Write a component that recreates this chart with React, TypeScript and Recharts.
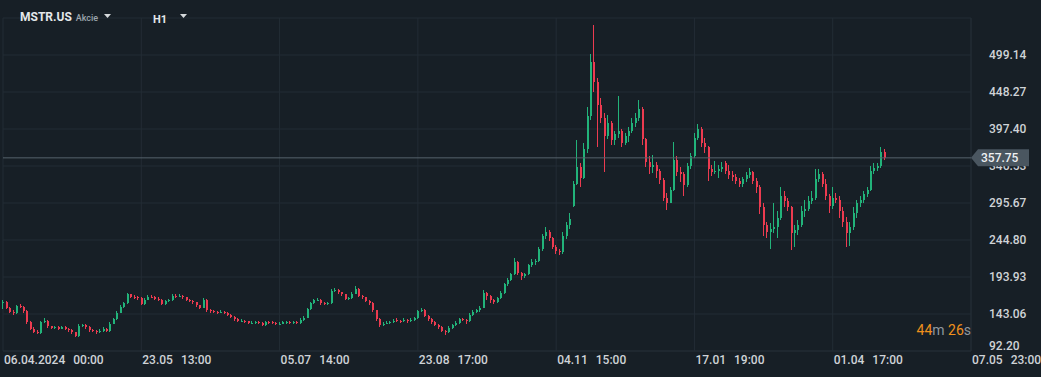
import React from 'react';
import { ComposedChart, Bar, XAxis, YAxis, CartesianGrid, ReferenceLine } from 'recharts';

const BG = '#171f26';
const GRID = '#232c35';
const UP = '#22b37a';
const DOWN = '#ec3b50';
const TEXT = '#cfd3d7';

const OPENS = [
  158, 160, 152, 146, 144, 154, 153, 147, 132, 123, 119, 117, 132, 134, 126, 124, 125, 123, 125, 123,
  121, 118, 113, 127, 128, 125, 121, 120, 118, 120, 123, 120, 130, 136, 145, 153, 158, 170, 167, 166,
  165, 157, 163, 167, 166, 164, 163, 157, 161, 162, 168, 167, 168, 166, 163, 161, 159, 155, 152, 163,
  148, 147, 146, 145, 146, 145, 142, 139, 136, 133, 134, 133, 130, 131, 132, 131, 128, 132, 132, 131,
  129, 130, 131, 132, 131, 132, 131, 135, 138, 150, 158, 162, 163, 158, 157, 158, 175, 176, 173, 170,
  164, 165, 171, 178, 168, 166, 161, 158, 148, 136, 128, 130, 131, 132, 135, 134, 133, 135, 133, 135,
  137, 147, 149, 141, 136, 132, 128, 125, 120, 118, 124, 128, 131, 136, 135, 133, 142, 146, 148, 152,
  172, 168, 162, 160, 165, 172, 184, 190, 198, 215, 199, 195, 198, 210, 214, 216, 232, 250, 256, 247,
  235, 229, 228, 250, 266, 292, 322, 345, 330, 370, 415, 490, 462, 430, 412, 388, 405, 382, 390, 395,
  378, 388, 395, 406, 412, 425, 383, 352, 345, 348, 340, 327, 303, 296, 314, 355, 338, 335, 320, 346,
  360, 385, 398, 378, 372, 342, 338, 340, 342, 350, 340, 334, 332, 326, 322, 328, 334, 338, 326, 318,
  290, 265, 256, 260, 262, 275, 305, 298, 290, 255, 258, 266, 285, 288, 298, 302, 328, 336, 322, 305,
  292, 303, 300, 285, 270, 255, 262, 282, 296, 300, 308, 314, 340, 344, 346, 366,
];

const HIGHS = [
  162, 161, 153, 148, 156, 157, 154, 148, 134, 125, 121, 134, 137, 135, 127, 127, 126, 127, 126, 124,
  122, 119, 129, 130, 129, 126, 123, 121, 122, 125, 124, 132, 138, 147, 155, 160, 172, 171, 169, 168,
  166, 165, 169, 169, 168, 166, 164, 163, 164, 170, 170, 170, 169, 167, 164, 162, 160, 156, 165, 164,
  150, 149, 147, 148, 147, 146, 143, 140, 137, 136, 135, 134, 133, 134, 133, 132, 134, 133, 133, 132,
  132, 134, 134, 133, 134, 133, 137, 140, 152, 160, 164, 165, 164, 159, 160, 177, 179, 177, 174, 171,
  167, 173, 182, 179, 169, 167, 162, 159, 149, 137, 132, 133, 134, 136, 137, 135, 137, 136, 137, 139,
  149, 152, 150, 142, 137, 133, 129, 126, 121, 126, 130, 133, 138, 138, 136, 144, 148, 150, 154, 176,
  174, 169, 164, 167, 175, 186, 193, 200, 220, 216, 201, 200, 212, 218, 219, 235, 253, 262, 258, 249,
  238, 232, 256, 270, 282, 326, 382, 350, 378, 428, 500, 541, 468, 440, 420, 416, 408, 395, 443, 398,
  392, 400, 412, 420, 437, 428, 385, 360, 362, 352, 343, 330, 310, 318, 380, 360, 345, 338, 350, 365,
  392, 404, 400, 385, 374, 348, 354, 348, 352, 354, 348, 340, 336, 330, 332, 338, 344, 340, 330, 320,
  295, 270, 268, 295, 285, 318, 312, 302, 292, 265, 272, 292, 300, 305, 312, 342, 342, 338, 328, 308,
  318, 310, 305, 290, 276, 270, 290, 300, 305, 312, 318, 346, 350, 350, 372, 370,
];

const LOWS = [
  150, 150, 144, 142, 143, 151, 145, 130, 121, 117, 115, 116, 131, 124, 122, 122, 121, 122, 121, 119,
  116, 111, 112, 125, 123, 119, 118, 116, 117, 119, 118, 119, 129, 135, 144, 152, 157, 165, 164, 163,
  155, 156, 162, 165, 162, 161, 155, 156, 160, 161, 165, 166, 164, 161, 159, 157, 153, 150, 151, 146,
  145, 144, 143, 144, 143, 140, 137, 134, 132, 132, 131, 129, 129, 130, 129, 126, 127, 129, 129, 128,
  128, 129, 130, 129, 130, 129, 130, 134, 137, 149, 157, 161, 156, 155, 156, 157, 174, 171, 168, 162,
  163, 164, 170, 166, 164, 159, 156, 146, 134, 125, 127, 129, 130, 131, 132, 131, 132, 131, 132, 134,
  136, 146, 139, 134, 130, 126, 123, 118, 114, 117, 123, 127, 130, 133, 130, 132, 141, 144, 146, 151,
  163, 158, 157, 158, 164, 171, 182, 188, 196, 196, 190, 192, 196, 207, 211, 214, 230, 246, 244, 232,
  226, 224, 226, 246, 260, 290, 320, 318, 328, 365, 410, 448, 372, 405, 338, 383, 376, 375, 385, 372,
  375, 380, 392, 400, 408, 375, 345, 336, 337, 330, 322, 298, 286, 295, 312, 333, 325, 305, 318, 343,
  358, 382, 372, 365, 326, 333, 335, 330, 338, 336, 328, 326, 322, 318, 318, 324, 330, 322, 310, 280,
  250, 248, 232, 255, 248, 272, 290, 285, 231, 235, 252, 262, 276, 285, 294, 300, 324, 318, 300, 282,
  288, 295, 275, 262, 235, 236, 258, 275, 290, 296, 304, 312, 336, 340, 344, 355,
];

const CLOSES = [
  160, 152, 146, 144, 154, 153, 147, 132, 123, 119, 117, 132, 134, 126, 124, 125, 123, 125, 123, 121,
  118, 113, 127, 128, 125, 121, 120, 118, 120, 123, 120, 130, 136, 145, 153, 158, 170, 167, 166, 165,
  157, 163, 167, 166, 164, 163, 157, 161, 162, 168, 167, 168, 166, 163, 161, 159, 155, 152, 163, 148,
  147, 146, 145, 146, 145, 142, 139, 136, 134, 134, 133, 131, 131, 132, 131, 128, 132, 131, 131, 130,
  130, 132, 132, 131, 132, 131, 135, 138, 150, 158, 162, 163, 158, 157, 158, 175, 176, 173, 170, 164,
  165, 171, 178, 168, 166, 161, 158, 148, 136, 128, 130, 131, 132, 134, 134, 133, 135, 133, 135, 137,
  147, 149, 141, 136, 132, 128, 125, 120, 118, 124, 128, 131, 136, 135, 133, 142, 146, 148, 152, 172,
  168, 162, 160, 165, 172, 184, 190, 198, 215, 199, 195, 198, 210, 214, 216, 232, 250, 256, 247, 235,
  229, 228, 250, 266, 274, 322, 345, 330, 370, 415, 490, 462, 430, 412, 388, 405, 382, 390, 395, 378,
  388, 395, 406, 412, 425, 383, 352, 345, 348, 340, 327, 303, 296, 314, 355, 338, 335, 320, 346, 360,
  385, 398, 378, 372, 342, 338, 340, 342, 345, 340, 334, 332, 326, 322, 328, 334, 338, 326, 318, 290,
  265, 256, 260, 262, 275, 305, 298, 290, 255, 258, 266, 285, 288, 298, 302, 328, 336, 322, 305, 292,
  303, 300, 285, 270, 255, 262, 282, 296, 300, 308, 314, 340, 344, 346, 366, 357.75,
];

const TICK_POS = [0, 40, 80, 120, 160, 200, 240, 280];
const TICK_LABELS = [
  '06.04.2024  00:00', '23.05  13:00', '05.07  14:00', '23.08  17:00',
  '04.11  15:00', '17.01  19:00', '01.04  17:00', '07.05  23:00',
];
const PRICE_TICKS = [92.2, 143.06, 193.93, 244.8, 295.67, 346.53, 397.4, 448.27, 499.14];
const LAST_PRICE = 357.75;

const data = CLOSES.map((c, i) => ({
  i,
  o: OPENS[i],
  h: HIGHS[i],
  l: LOWS[i],
  c,
  range: [LOWS[i], HIGHS[i]],
}));

function Candle(props: any) {
  const { x, y, width, height, payload } = props;
  if (!payload || height == null) return null;
  const { o, h, l, c } = payload;
  const color = c >= o ? UP : DOWN;
  const cx = Math.floor(x + width / 2);
  const span = h - l || 1;
  const top = y + ((h - Math.max(o, c)) / span) * height;
  const bot = y + ((h - Math.min(o, c)) / span) * height;
  return (
    <g shapeRendering="crispEdges">
      <rect x={cx} y={y} width={1} height={Math.max(1, height)} fill={color} />
      <rect x={cx - 0.5} y={top} width={2} height={Math.max(1, bot - top)} fill={color} />
    </g>
  );
}

function TimeTick({ x, payload }: any) {
  const idx = TICK_POS.indexOf(payload.value);
  const [date, time] = (TICK_LABELS[idx] || '').split('  ');
  return (
    <text x={x + 1} y={364} fill={TEXT} fontSize={12} fontWeight={500} textAnchor="start">
      <tspan>{date}</tspan>
      <tspan dx={8}>{time}</tspan>
    </text>
  );
}

function PriceTick({ x, y, payload }: any) {
  const bottom = payload.value === PRICE_TICKS[0];
  return (
    <text x={x + 10} y={y + (bottom ? -1 : 4)} fill={TEXT} fontSize={12} fontWeight={500} textAnchor="start">
      {payload.value.toFixed(2)}
    </text>
  );
}

function PriceTag({ viewBox }: any) {
  const x0 = viewBox.x + viewBox.width;
  const y0 = viewBox.y;
  const pts = `${x0},${y0} ${x0 + 7},${y0 - 8.5} ${x0 + 58},${y0 - 8.5} ${x0 + 58},${y0 + 8.5} ${x0 + 7},${y0 + 8.5}`;
  return (
    <g>
      <polygon points={pts} fill="#4a5660" />
      <text x={x0 + 10} y={y0 + 4.5} fill="#eef0f2" fontSize={12} fontWeight={500}>
        {LAST_PRICE.toFixed(2)}
      </text>
    </g>
  );
}

export default function App() {
  return (
    <div style={{ position: 'absolute', left: 0, top: 0, width: 1041, height: 377, background: BG, fontFamily: 'Roboto, sans-serif', overflow: 'hidden' }}>
      <ComposedChart width={1041} height={377} data={data} margin={{ top: 18, right: 0, bottom: 0, left: 3 }}>
        <CartesianGrid stroke={GRID} strokeWidth={1} />
        <XAxis
          dataKey="i"
          type="number"
          domain={[0, 280]}
          ticks={TICK_POS}
          interval={0}
          height={26}
          tickLine={false}
          axisLine={{ stroke: GRID }}
          tick={<TimeTick />}
        />
        <YAxis
          orientation="right"
          width={70}
          domain={[92.2, 550.01]}
          ticks={PRICE_TICKS}
          interval={0}
          allowDataOverflow
          tickLine={false}
          axisLine={{ stroke: GRID }}
          tick={<PriceTick />}
        />
        <Bar dataKey="range" barSize={3} shape={<Candle />} isAnimationActive={false} />
        <ReferenceLine
          y={LAST_PRICE}
          stroke="#56626c"
          strokeWidth={1}
          zIndex={2000}
          label={<PriceTag />}
        />
      </ComposedChart>

      <div style={{ position: 'absolute', left: 20, top: 10, display: 'flex', alignItems: 'baseline', color: '#e4e7ea' }}>
        <span style={{ fontSize: 12, fontWeight: 700 }}>MSTR.US</span>
        <span style={{ fontSize: 9, fontWeight: 500, color: '#9aa3ab', marginLeft: 4 }}>Akcie</span>
      </div>
      <svg style={{ position: 'absolute', left: 0, top: 0 }} width={200} height={30}>
        <polygon points="104,14 111,14 107.5,18" fill="#d5d9dc" />
        <polygon points="180,14 187,14 183.5,18" fill="#d5d9dc" />
      </svg>
      <div style={{ position: 'absolute', left: 153, top: 13, fontSize: 11, fontWeight: 700, color: '#e4e7ea' }}>H1</div>

      <div style={{ position: 'absolute', right: 70, top: 322, fontSize: 14, whiteSpace: 'pre', color: '#8f979e' }}>
        <span style={{ color: '#f0901c' }}>44</span>m <span style={{ color: '#f0901c' }}>26</span>s
      </div>
    </div>
  );
}
